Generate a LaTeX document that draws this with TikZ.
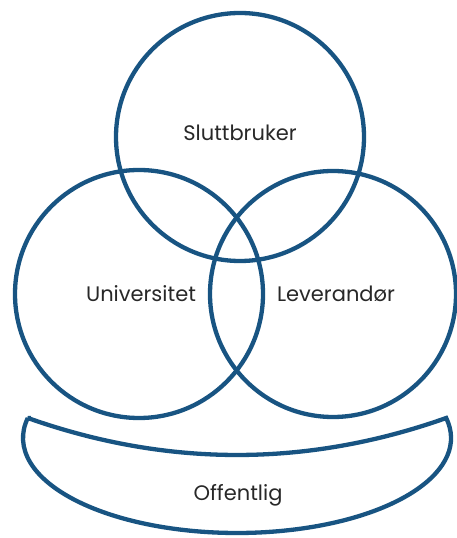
\documentclass[tikz,border=0pt]{standalone}
\usepackage{fontspec}
\setmainfont{Poppins}
\definecolor{ring}{RGB}{24,84,130}
\definecolor{txt}{RGB}{40,40,40}
\begin{document}
\begin{tikzpicture}[x=1pt,y=1pt,
  ringline/.style={draw=ring,line width=4.3pt},
  lbl/.style={text=txt,font=\fontsize{21}{24}\selectfont,inner sep=0pt}]
\useasboundingbox (0,0) rectangle (457,538);
% circles
\node[ringline,circle,minimum size=248pt,inner sep=0pt] (top) at (240,401) {};
\node[ringline,circle,minimum size=248pt,inner sep=0pt] (left) at (139,244) {};
\node[ringline,circle,minimum size=246pt,inner sep=0pt] (right) at (333,244) {};
% bottom shape
\draw[ringline,line join=miter,miter limit=2.5]
  (27.8,120) .. controls (167,70.7) and (307,70.7) .. (446.2,120)
  arc[start angle=12.15,end angle=-192.15,x radius=214,y radius=95] -- cycle;
% labels
\node[lbl] (ls) at (240,405) {Sluttbruker};
\node[lbl] (lu) at (141,244) {Universitet};
\node[lbl] (ll) at (336,244) {Leverandør};
\node[lbl] (lo) at (238,43) {Offentlig};
\end{tikzpicture}
\end{document}
